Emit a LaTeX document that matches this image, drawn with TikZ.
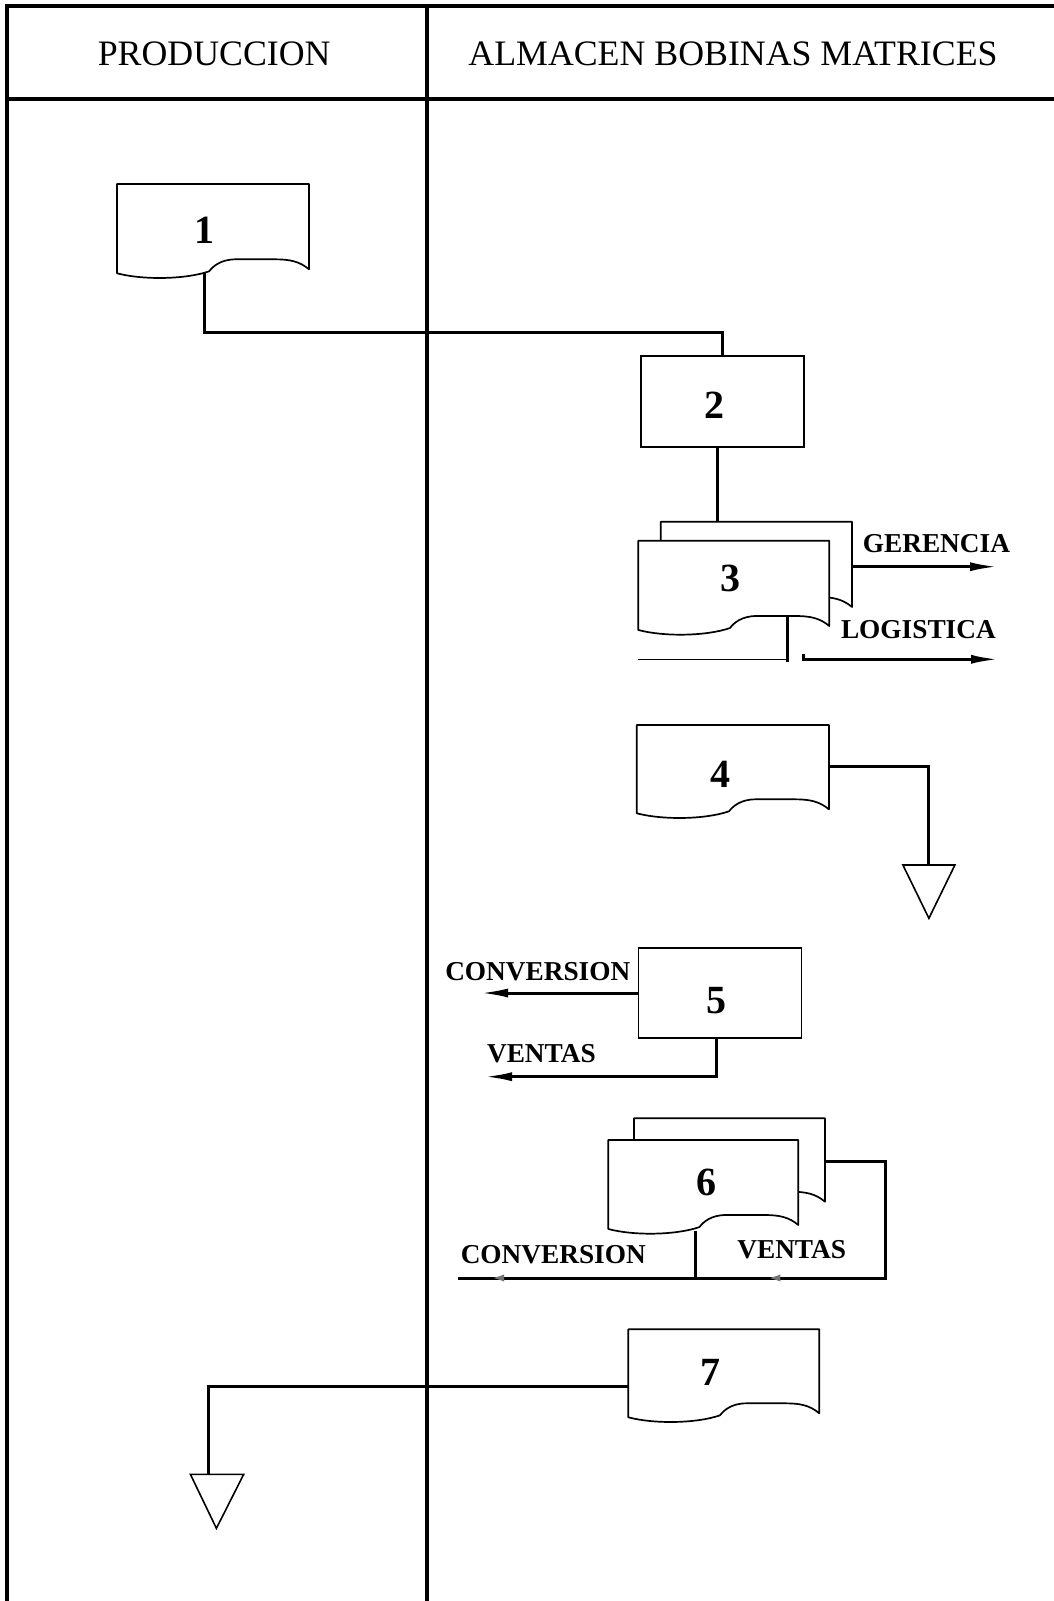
\documentclass[tikz,border=0pt]{standalone}
\usepackage{fontspec}
\setmainfont{Liberation Serif}
\usetikzlibrary{arrows.meta,decorations.markings}

% Document symbol with a wavy lower edge: #1 = left, #2 = top, #3 = width, #4 = height of right side
\newcommand{\wavedoc}[4]{%
  \draw[docline,fill=white] (#1,#2) -- ({#1+#3},#2) -- ({#1+#3},{#2+#4})
    .. controls ({#1+0.95*#3},{#2+#4-8}) and ({#1+0.9*#3},{#2+#4-10}) .. ({#1+0.82*#3},{#2+#4-10})
    -- ({#1+0.62*#3},{#2+#4-10})
    .. controls ({#1+0.54*#3},{#2+#4-10}) and ({#1+0.5*#3},{#2+#4-3}) .. ({#1+0.48*#3},{#2+#4+2})
    .. controls ({#1+0.36*#3},{#2+#4+10}) and ({#1+0.14*#3},{#2+#4+11}) .. (#1,{#2+#4+4})
    -- cycle;}

\begin{document}
\begin{tikzpicture}[x=1pt,y=-1pt,
  frameline/.style={line width=3.2pt,line join=miter},
  conn/.style={line width=3pt,line join=miter},
  thinconn/.style={line width=1.6pt},
  docline/.style={line width=1.7pt,line join=round},
  boxstyle/.style={draw,line width=1.7pt,minimum width=163pt,minimum height=91pt,inner sep=0pt},
  headtext/.style={font=\fontsize{35.8}{40}\selectfont,anchor=base,inner sep=0pt},
  numtext/.style={font=\fontsize{40}{44}\selectfont\bfseries,anchor=base,inner sep=0pt},
  lbl/.style={font=\fontsize{27.3}{30}\selectfont\bfseries,anchor=base,inner sep=0pt},
  arr/.style={-{Latex[length=28pt,width=9pt]}},
  tri/.style={line width=1.6pt,line join=miter,fill=white},
  faintarrow/.style={postaction={decorate},decoration={markings,
      mark=at position #1 with {\arrow[black!55]{Latex[length=14pt,width=7pt]}}}},
]
\useasboundingbox (0,0) rectangle (1054,1601);

% ---------- swimlane frame ----------
\coordinate (fTL) at (7,6);
\coordinate (fTR) at (1054,6);
\coordinate (fBL) at (7,1601);
\coordinate (hL) at (7,99);
\coordinate (hR) at (1054,99);
\coordinate (dT) at (427,6);
\coordinate (dB) at (427,1601);
\draw[frameline] (fTR) -- (fTL) -- (fBL);
\draw[frameline] (hL) -- (hR);
\draw[frameline] (dT) -- (dB);

\node[headtext] (h1) at (214.2,65) {PRODUCCION};
\node[headtext] (h2) at (733,65) {ALMACEN BOBINAS MATRICES};

% ---------- 1 : document ----------
\wavedoc{117}{184}{192}{85.3}
\node[numtext] (d1) at (204,243.3) {1};
\coordinate (d1b) at (204,273);

% ---------- 2 : process box ----------
\node[boxstyle] (b2) at (722.3,401.2) {};
\node[numtext] (n2) at (714,418.3) {2};
\draw[conn] (d1b) -- ++(0,59.3) -| (b2.north);

% ---------- 3 : multiple document ----------
\wavedoc{660.7}{521.7}{191.3}{85.3}
\wavedoc{638.3}{540.7}{191}{85.3}
\node[numtext] (d3) at (730,591.7) {3};
\coordinate (d3top) at (717,521.7);
\draw[conn] (d3top |- b2.south) -- (d3top);

\coordinate (g0) at (852,566.7);
\coordinate (g1) at (998,566.7);
\draw[conn,arr] (g0) -- (g1);
\node[lbl] (gl) at (936.4,552) {GERENCIA};

\coordinate (l0) at (638,659.3);
\coordinate (l1) at (787,659.3);
\coordinate (lt) at (787,617);
\coordinate (lb) at (787,662);
\coordinate (la) at (803,654);
\coordinate (lz) at (999,659.3);
\draw[thinconn] (l0) -- (l1);
\draw[conn] (lt) -- (lb);
\draw[conn,arr] (la) |- (lz);
\node[lbl] (ll) at (918.4,638.3) {LOGISTICA};

% ---------- 4 : document to file ----------
\wavedoc{636.8}{725}{192.1}{84.3}
\node[numtext] (d4) at (720,787) {4};
\coordinate (d4r) at (828.9,766.7);
\coordinate (t4) at (928.9,865);
\draw[conn] (d4r) -| (t4);
\draw[tri] (t4) ++(-26,0) -- ++(52,0) -- ++(-26,53.3) -- cycle;

% ---------- 5 : process box ----------
\node[boxstyle,minimum width=162.8pt,minimum height=90.6pt] (b5) at (720,993) {};
\node[numtext] (n5) at (716.4,1013) {5};
\coordinate (c5) at (480,993);
\draw[conn,arr] (b5.west) -- (c5);
\node[lbl] (c5l) at (537.8,980) {CONVERSION};
\coordinate (v5s) at (716.4,1038.3);
\coordinate (v5) at (484,1076.7);
\draw[conn,arr] (v5s) |- (v5);
\node[lbl] (v5l) at (541.4,1062) {VENTAS};

% ---------- 6 : multiple document ----------
\wavedoc{634}{1118.3}{191}{83.4}
\wavedoc{608.3}{1140}{190}{85}
\node[numtext] (d6) at (706.7,1195) {6};
\coordinate (d6b) at (695,1231);
\coordinate (d6j) at (695,1278);
\coordinate (c6) at (458.3,1278);
\coordinate (d6r) at (825,1161.7);
\coordinate (v6c) at (885,1278);
\draw[conn,faintarrow=252pt] (d6b) -- (d6j) -- (c6);
\draw[conn,faintarrow=295pt] (d6r) -| (v6c) -- (d6j);
\node[lbl] (c6l) at (553.3,1263) {CONVERSION};
\node[lbl] (v6l) at (791.7,1258) {VENTAS};

% ---------- 7 : document to file ----------
\wavedoc{628.3}{1329.3}{191}{84}
\node[numtext] (d7) at (710.7,1385) {7};
\coordinate (d7l) at (628.3,1386);
\coordinate (t7) at (208.6,1474.3);
\draw[conn] (d7l) -| (t7);
\draw[tri] (t7) ++(-18.2,0) -- ++(53.3,0) -- ++(-27.3,54) -- cycle;

\end{tikzpicture}
\end{document}
